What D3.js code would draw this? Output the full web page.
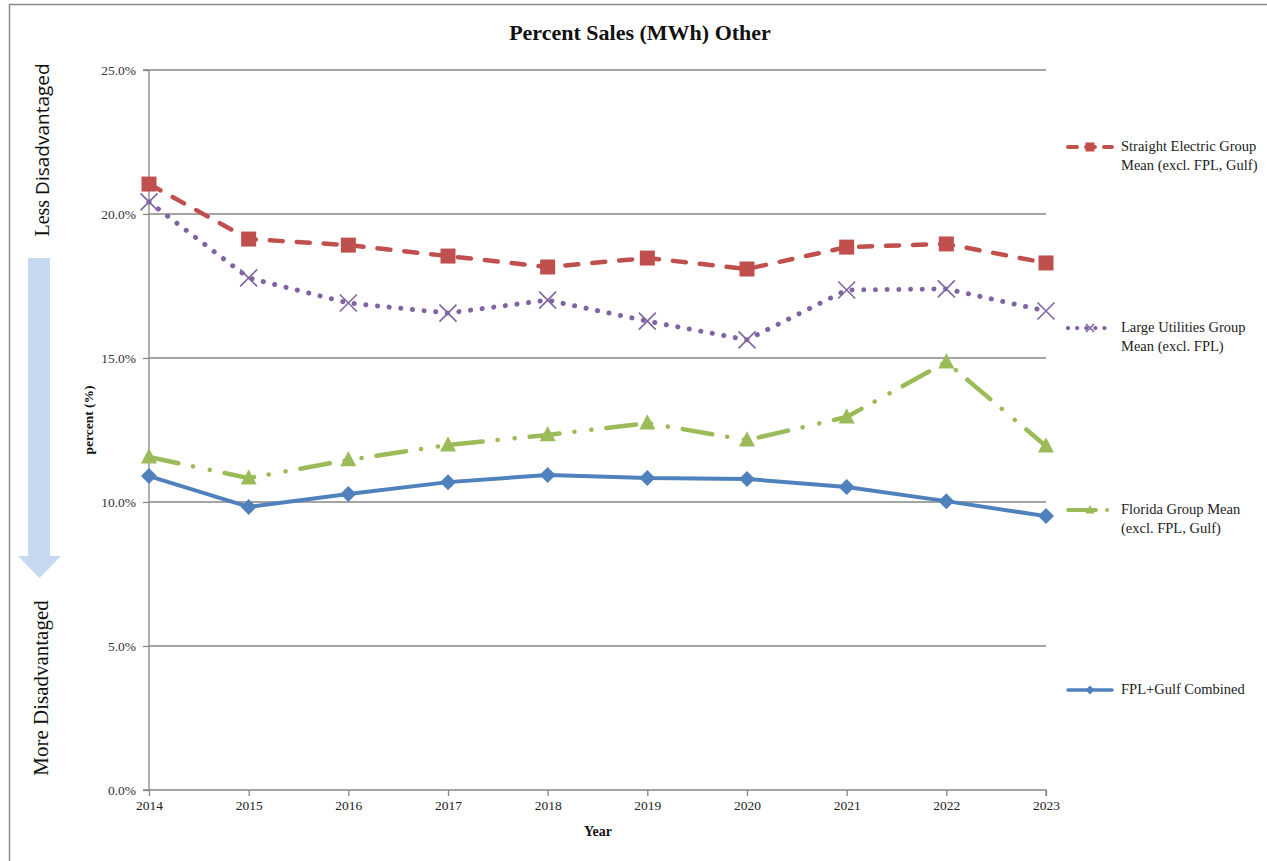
<!DOCTYPE html>
<html><head><meta charset="utf-8">
<script src="https://cdn.jsdelivr.net/npm/d3@7"></script>
<style>body{margin:0;background:#fff}svg{display:block}</style>
</head><body>
<svg id="c" width="1267" height="861"></svg>
<script>
const years = [2014,2015,2016,2017,2018,2019,2020,2021,2022,2023];
const straightElectric = [21.04,19.13,18.92,18.54,18.16,18.47,18.09,18.85,18.96,18.30];
const largeUtilities   = [20.42,17.78,16.91,16.56,17.01,16.28,15.63,17.36,17.40,16.63];
const floridaGroup     = [11.56,10.83,11.46,11.98,12.33,12.74,12.15,12.95,14.86,11.94];
const fplGulf          = [10.90,9.83,10.28,10.69,10.94,10.83,10.80,10.52,10.03,9.51];
const yTicks = [0,5,10,15,20,25];
const seriesNames = ["Straight Electric Group\nMean (excl. FPL, Gulf)","Large Utilities Group\nMean (excl. FPL)","Florida Group Mean\n(excl. FPL, Gulf)","FPL+Gulf Combined"];

const serif = "'Liberation Serif', 'DejaVu Serif', serif";
const svg = d3.select("#c");
// outer frame
svg.append("rect").attr("x",9.5).attr("y",4.5).attr("width",1300).attr("height",900)
  .attr("fill","none").attr("stroke","#8c8c8c").attr("stroke-width",1.5);

const x = d3.scaleLinear().domain([2014,2023]).range([149,1046]);
const y = d3.scaleLinear().domain([0,25]).range([790,70]);

// gridlines
svg.append("g").selectAll("line").data(yTicks.filter(d=>d>0)).join("line")
  .attr("x1",x(2014)).attr("x2",x(2023)).attr("y1",d=>y(d)).attr("y2",d=>y(d))
  .attr("stroke","#868686").attr("stroke-width",1.3);

// y axis
const ya = svg.append("g").attr("transform",`translate(${x(2014)},0)`)
  .call(d3.axisLeft(y).tickValues(yTicks).tickFormat(d=>d.toFixed(1)+"%").tickSize(6).tickPadding(7));
ya.select(".domain").attr("stroke","#868686").attr("stroke-width",1.3).attr("d",`M-6,${y(25)}H0V${y(0)}H-6`);
ya.selectAll(".tick line").attr("stroke","#868686").attr("stroke-width",1.3);
ya.selectAll("text").attr("font-family",serif).attr("font-size",13.5).attr("fill","#333");

// x axis
const xa = svg.append("g").attr("transform",`translate(0,${y(0)})`)
  .call(d3.axisBottom(x).tickValues(years).tickFormat(d3.format("d")).tickSize(6).tickPadding(4));
xa.select(".domain").attr("stroke","#868686").attr("stroke-width",1.3).attr("d",`M${x(2014)},0H${x(2023)}V6`);
xa.selectAll(".tick line").attr("stroke","#868686").attr("stroke-width",1.3);
xa.selectAll("text").attr("font-family",serif).attr("font-size",13.5).attr("fill","#222");

// titles
svg.append("text").attr("x",640).attr("y",40).attr("text-anchor","middle")
  .attr("font-family",serif).attr("font-weight","bold").attr("font-size",22).attr("fill","#111")
  .text("Percent Sales (MWh) Other");
svg.append("text").attr("x",598).attr("y",836).attr("text-anchor","middle")
  .attr("font-family",serif).attr("font-weight","bold").attr("font-size",14).attr("fill","#111").text("Year");
svg.append("text").attr("transform","translate(93,420) rotate(-90)").attr("text-anchor","middle")
  .attr("font-family",serif).attr("font-weight","bold").attr("font-size",13.5).attr("fill","#111").text("percent (%)");

// left annotation
const less = svg.append("text").attr("transform","translate(49,150) rotate(-90)").attr("text-anchor","middle")
  .attr("font-size",20).attr("fill","#111");
less.append("tspan").attr("font-family",serif).text("Less ");
less.append("tspan").attr("font-family","'Open Sans','Lato',sans-serif").attr("font-size",19).text("Disadvantaged");
svg.append("text").attr("transform","translate(48,688) rotate(-90)").attr("text-anchor","middle")
  .attr("font-family",serif).attr("font-size",21).attr("fill","#111").text("More Disadvantaged");
svg.append("path").attr("d","M28,258 H50 V556 H61 L39.5,578 L18,556 H28 Z").attr("fill","#C6D9F0");

// series
const series = [
  {vals:straightElectric,color:"#C0504D",dash:"13 14",w:4.5,marker:"square"},
  {vals:largeUtilities,color:"#8064A2",dash:"0.1 11.6",w:5,marker:"x"},
  {vals:floridaGroup,color:"#9BBB59",dash:"30 15 0.1 17 0.1 15",w:4.5,marker:"triangle"},
  {vals:fplGulf,color:"#4F81BD",dash:null,w:4,marker:"diamond"}
];
const line = d3.line().x((d,i)=>x(years[i])).y(d=>y(d));
function drawMarker(g,type,cx,cy,color,s){
  if(type==="square") g.append("rect").attr("x",cx-s/2).attr("y",cy-s/2).attr("width",s).attr("height",s).attr("fill",color);
  else if(type==="triangle") g.append("path").attr("d",`M${cx},${cy-s*0.55}L${cx+s/2},${cy+s*0.4}L${cx-s/2},${cy+s*0.4}Z`).attr("fill",color);
  else if(type==="diamond") g.append("path").attr("d",`M${cx},${cy-s/2}L${cx+s/2},${cy}L${cx},${cy+s/2}L${cx-s/2},${cy}Z`).attr("fill",color);
  else if(type==="x"){ const h=s/2; g.append("path").attr("d",`M${cx-h},${cy-h}L${cx+h},${cy+h}M${cx+h},${cy-h}L${cx-h},${cy+h}`).attr("stroke",color).attr("stroke-width",1.6).attr("fill","none");}
}
const msize={square:15,x:17,triangle:16,diamond:16};
series.forEach(s=>{
  svg.append("path").datum(s.vals).attr("d",line).attr("fill","none").attr("stroke",s.color)
    .attr("stroke-width",s.w).attr("stroke-linecap","round").attr("stroke-linejoin","round")
    .attr("stroke-dasharray",s.dash);
});
series.forEach(s=>{
  const g=svg.append("g");
  s.vals.forEach((v,i)=>drawMarker(g,s.marker,x(years[i]),y(v),s.color,msize[s.marker]));
});

// legend
const legY=[147,328,510,690];
const lmsize={square:9,x:8,triangle:9,diamond:9};
series.forEach((s,i)=>{
  const g=svg.append("g");
  g.append("line").attr("x1",1068).attr("x2",1112).attr("y1",legY[i]).attr("y2",legY[i])
    .attr("stroke",s.color).attr("stroke-width",s.w*0.85).attr("stroke-linecap","round")
    .attr("stroke-dasharray",s.dash? (i===0?"9 9":i===1?"0.1 9":"28 11 0.1 10") : null);
  drawMarker(g,s.marker,1090,legY[i],s.color,lmsize[s.marker]);
  const t=g.append("text").attr("x",1121).attr("y",legY[i]+4).attr("font-family",serif).attr("font-size",14.5).attr("fill","#222");
  seriesNames[i].split("\n").forEach((ln,j)=>t.append("tspan").attr("x",1121).attr("dy",j?18.5:0).text(ln));
});
</script>
</body></html>
